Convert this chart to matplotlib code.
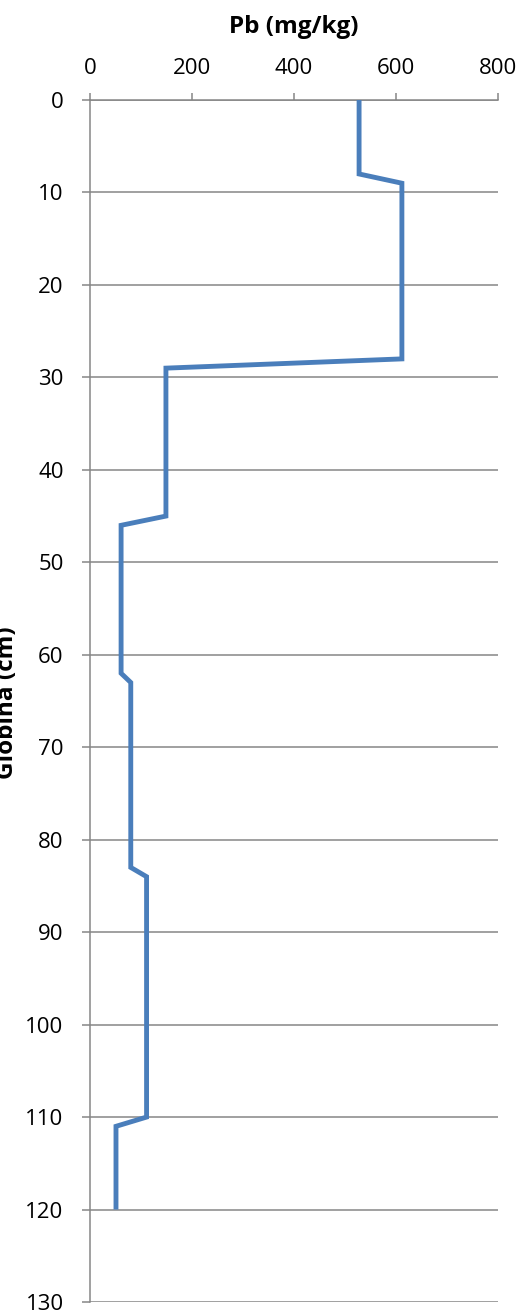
import matplotlib.pyplot as plt

# lead concentration down the soil profile
depth_cm = [0, 8, 9, 28, 29, 45, 46, 62, 63, 83, 84, 110, 111, 120]
pb_mgkg = [528, 528, 612, 612, 149, 149, 61, 61, 80, 80, 111, 111, 51, 51]

x_ticks = [0, 200, 400, 600, 800]
y_ticks = list(range(0, 131, 10))

plt.rcParams['font.family'] = ['Open Sans', 'DejaVu Sans']

W, H = 524, 1310
fig = plt.figure(figsize=(W / 100, H / 100), dpi=100)
ax = fig.add_axes([90 / W, 1 - 1302 / H, (497.7 - 90) / W, (1302 - 100) / H])

grey = '#868686'
ax.plot(pb_mgkg, depth_cm, color='#4a7ebb', lw=3.5, solid_joinstyle='miter',
        solid_capstyle='butt', zorder=3)

ax.set_xlim(0, 800)
ax.set_ylim(130, 0)
ax.set_xticks(x_ticks)
ax.set_yticks(y_ticks)
ax.xaxis.tick_top()
ax.xaxis.set_label_position('top')
ax.set_xlabel('Pb (mg/kg)', fontsize=17.5, fontweight='bold', labelpad=18)

ax.grid(axis='y', color=grey, lw=1.1)
ax.set_axisbelow(True)
for side in ['right', 'bottom']:
    ax.spines[side].set_visible(False)
for side in ['left', 'top']:
    ax.spines[side].set_color(grey)
    ax.spines[side].set_linewidth(1.1)

ax.tick_params(axis='x', direction='out', length=5, width=1.1, color=grey,
               labelsize=16, pad=10)
ax.tick_params(axis='y', direction='out', length=6, width=1.1, color=grey,
               labelsize=16, pad=13)

fig.text(13 / W, 1 - 703 / H, 'Globina (cm)', rotation=90, fontsize=17.5,
         fontweight='bold', ha='center', va='baseline', rotation_mode='anchor')

fig.savefig('out.png', dpi=100)
